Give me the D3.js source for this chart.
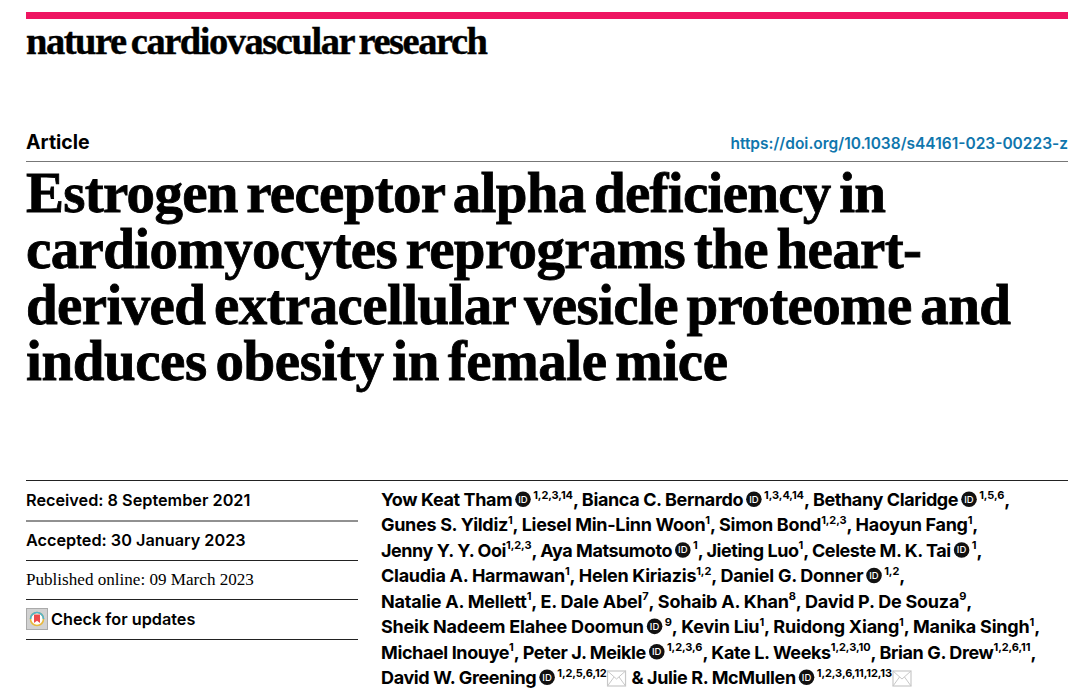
<!DOCTYPE html>
<html>
<head>
<meta charset="utf-8">
<script src="https://cdn.jsdelivr.net/npm/d3@7"></script>
<style>
  body { margin: 0; background: #fff; }
  svg { display: block; }
</style>
</head>
<body>
<script>
// page text, line by line
const journal = "nature cardiovascular research";
const articleType = "Article";
const doi = "https://doi.org/10.1038/s44161-023-00223-z";
const titleLines = [
  "Estrogen receptor alpha deficiency in",
  "cardiomyocytes reprograms the heart-",
  "derived extracellular vesicle proteome and",
  "induces obesity in female mice"
];
const titleWidths = [860, 896, 985, 702];
const dates = ["Received: 8 September 2021", "Accepted: 30 January 2023", "Published online: 09 March 2023", "Check for updates"];
// authors: "|" splits runs, ^ = superscript, @ = orcid badge, # = mail icon
const authorLines = [
  "Yow Keat Tham|@|^1,2,3,14|, Bianca C. Bernardo|@|^1,3,4,14|, Bethany Claridge|@|^1,5,6|,",
  "Gunes S. Yildiz|^1|, Liesel Min-Linn Woon|^1|, Simon Bond|^1,2,3|, Haoyun Fang|^1|,",
  "Jenny Y. Y. Ooi|^1,2,3|, Aya Matsumoto|@|^1|, Jieting Luo|^1|, Celeste M. K. Tai|@|^1|,",
  "Claudia A. Harmawan|^1|, Helen Kiriazis|^1,2|, Daniel G. Donner|@|^1,2|,",
  "Natalie A. Mellett|^1|, E. Dale Abel|^7|, Sohaib A. Khan|^8|, David P. De Souza|^9|,",
  "Sheik Nadeem Elahee Doomun|@|^9|, Kevin Liu|^1|, Ruidong Xiang|^1|, Manika Singh|^1|,",
  "Michael Inouye|^1|, Peter J. Meikle|@|^1,2,3,6|, Kate L. Weeks|^1,2,3,10|, Brian G. Drew|^1,2,6,11|,",
  "David W. Greening|@|^1,2,5,6,12|#| & Julie R. McMullen|@|^1,2,3,6,11,12,13|#"
];
// right end of each author line
const authorEnds = [1010, 978, 982, 905, 972, 1040, 1036, 913];

const w = 1090, h = 695;
const sans = "Inter, 'Noto Sans', sans-serif";
const serif = "'Liberation Serif', serif";

let svg = d3.select("body").append("svg").attr("width", w).attr("height", h);

// top bar
svg.append("rect").attr("x", 26).attr("y", 12).attr("width", 1042).attr("height", 7).attr("fill", "#ee1561");

svg.append("text").attr("x", 26).attr("y", 54)
  .attr("font-family", serif).attr("font-weight", 700).attr("font-size", 38.5)
  .attr("word-spacing", -3).attr("textLength", 462).attr("lengthAdjust", "spacing")
  .attr("fill", "#000").attr("stroke", "#000").attr("stroke-width", 0.4)
  .text(journal);

svg.append("text").attr("x", 26).attr("y", 149)
  .attr("font-family", sans).attr("font-weight", 700).attr("font-size", 19.5).attr("fill", "#000")
  .text(articleType);

svg.append("text").attr("x", 1068).attr("y", 149).attr("text-anchor", "end")
  .attr("font-family", sans).attr("font-weight", 600).attr("font-size", 15.5).attr("fill", "#0f76ad")
  .text(doi);

svg.append("line").attr("x1", 26).attr("x2", 1068).attr("y1", 161.5).attr("y2", 161.5)
  .attr("stroke", "#777").attr("stroke-width", 1);

// title
const titleY = d3.scalePoint().domain(d3.range(titleLines.length)).range([212, 380]);
svg.append("g").selectAll("text").data(titleLines).join("text")
  .attr("x", 26).attr("y", (d, i) => titleY(i))
  .attr("font-family", serif).attr("font-weight", 700).attr("font-size", 57)
  .attr("word-spacing", -5)
  .attr("textLength", (d, i) => titleWidths[i]).attr("lengthAdjust", "spacing")
  .attr("fill", "#000").attr("stroke", "#000").attr("stroke-width", 0.8)
  .text(d => d);

// rule over the metadata block
svg.append("line").attr("x1", 26).attr("x2", 1068).attr("y1", 480.5).attr("y2", 480.5).attr("stroke", "#222");

// left column
const dateY = d3.scalePoint().domain(d3.range(dates.length)).range([506, 625]);
let dateG = svg.append("g");
dateG.selectAll("text").data(dates).join("text")
  .attr("x", (d, i) => i == 3 ? 51 : 26).attr("y", (d, i) => dateY(i))
  .attr("font-family", (d, i) => i == 2 ? serif : sans)
  .attr("font-weight", (d, i) => i == 2 ? 400 : 600)
  .attr("font-size", (d, i) => i == 2 ? 17.1 : 16.25)
  .attr("fill", "#000")
  .text(d => d);
dateG.selectAll("line").data([521, 560.5, 599.5, 639.5]).join("line")
  .attr("x1", 26).attr("x2", 358).attr("y1", d => d).attr("y2", d => d)
  .attr("stroke", "#222");

// check for updates badge
let badge = svg.append("g").attr("transform", "translate(26,608)");
badge.append("rect").attr("x", 0.5).attr("y", 0.5).attr("width", 21).attr("height", 21).attr("fill", "#d2d2d2").attr("stroke", "#aaa");
badge.append("circle").attr("cx", 11).attr("cy", 11).attr("r", 6.5).attr("fill", "#fff").attr("stroke", "#e8b93c").attr("stroke-width", 1.6);
badge.append("path").attr("d", "M4.5,11a6.5,6.5 0 0 1 13,0").attr("fill", "none").attr("stroke", "#4fb3cf").attr("stroke-width", 1.6);
badge.append("path").attr("d", "M8,6.5h6v8.5l-3,-2.2l-3,2.2z").attr("fill", "#ee4a4a");

// authors
const authorY = d3.scalePoint().domain(d3.range(authorLines.length)).range([506, 684]);
let authors = svg.append("g");

function runText(run, x, y, ls) {
  const isSup = run[0] == "^";
  return authors.append("text").attr("x", x).attr("y", isSup ? y - 7.5 : y)
    .attr("font-family", sans).attr("font-weight", 650).attr("fill", "#000")
    .attr("font-size", isSup ? 11 : 18)
    .attr("letter-spacing", isSup ? -0.1 : ls)
    .style("white-space", "pre")
    .text(isSup ? run.slice(1) : run);
}

authorLines.forEach((line, i) => {
  const runs = line.split("|");
  const y = authorY(i);

  // measure first, then stretch the name runs so the line ends where it should
  let natural = 0, nameChars = 0;
  runs.forEach(run => {
    if (run == "@" || run == "#") { natural += 21; return; }
    let t = runText(run, 0, 0, 0);
    natural += t.node().getComputedTextLength();
    if (run[0] != "^") nameChars += run.length;
    t.remove();
  });
  const ls = (authorEnds[i] - 381 - natural) / nameChars;

  let x = 381;
  runs.forEach(run => {
    if (run == "@") {
      authors.append("circle").attr("cx", x + 10.8).attr("cy", y - 6.8).attr("r", 7.8).attr("fill", "#111");
      authors.append("text").attr("x", x + 10.8).attr("y", y - 3.5).attr("text-anchor", "middle")
        .attr("font-family", sans).attr("font-weight", 500).attr("font-size", 9.5).attr("fill", "#fff").text("ID");
      x += 21;
    } else if (run == "#") {
      authors.append("rect").attr("x", x + 1).attr("y", y - 13).attr("width", 18).attr("height", 15)
        .attr("fill", "#fff").attr("stroke", "#c8c8c8").attr("stroke-width", 1.2);
      authors.append("path").attr("d", `M${x + 1},${y - 13}l9,8l9,-8M${x + 1},${y + 2}l6.5,-9M${x + 19},${y + 2}l-6.5,-9`)
        .attr("fill", "none").attr("stroke", "#c8c8c8").attr("stroke-width", 1);
      x += 21;
    } else {
      let t = runText(run, x, y, ls);
      x += t.node().getComputedTextLength();
    }
  });
});
</script>
</body>
</html>
